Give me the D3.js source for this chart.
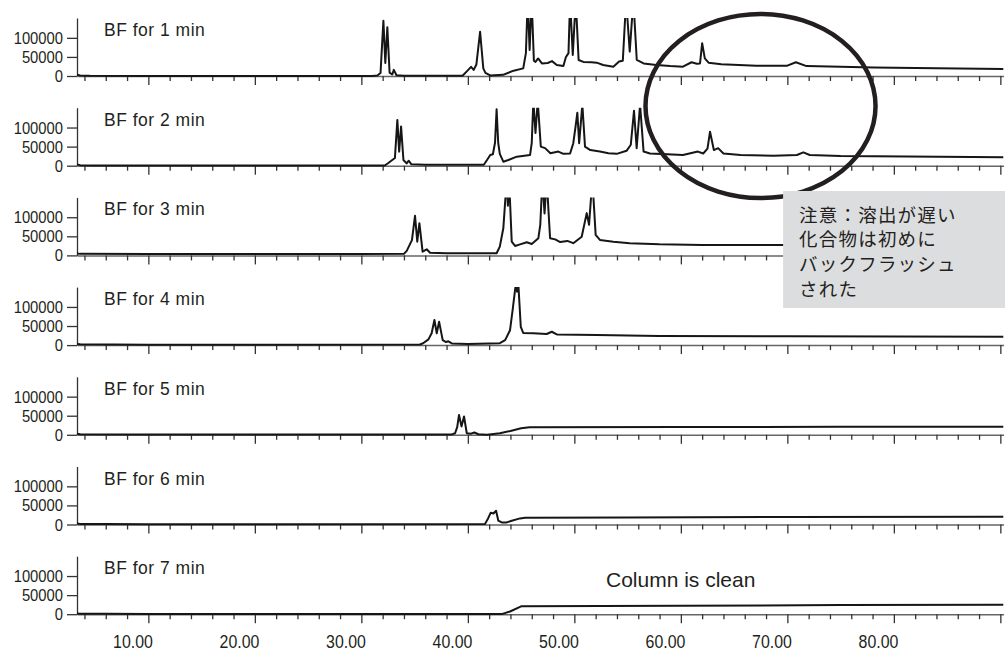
<!DOCTYPE html>
<html>
<head>
<meta charset="utf-8">
<script src="https://cdn.jsdelivr.net/npm/d3@7"></script>
<style>
  body { margin: 0; background: #fff; }
  svg { display: block; }
</style>
</head>
<body>
<svg id="chart" width="1005" height="651"></svg>
<script>
// panel titles (backflush time)
const titles = ["BF for 1 min", "BF for 2 min", "BF for 3 min", "BF for 4 min",
                "BF for 5 min", "BF for 6 min", "BF for 7 min"];

// traces, [retention time (min), abundance]
const bf1 = [[3.3,3000],[3.6,1500],[4.5,500],[10,300],[20,200],[31.0,300],[31.5,1500],[31.8,8000],
  [32.07,145000],[32.25,34000],[32.44,128000],[32.65,9000],[32.9,4000],[33.05,16000],[33.3,2000],[34,500],
  [39.5,500],[39.9,12000],[40.3,24000],[40.55,16000],[40.8,30000],[41.15,116000],[41.45,20000],[41.65,8000],
  [42.1,1500],[43.3,3000],[44.3,14000],[45.2,20000],[45.45,60000],[45.62,200000],[45.8,68000],[45.99,200000],
  [46.2,40000],[46.35,37000],[46.6,46000],[46.95,33000],[47.5,34000],[47.9,39000],[48.35,29000],[48.97,26000],
  [49.2,49000],[49.45,60000],[49.6,200000],[49.85,55000],[50.13,200000],[50.4,42000],[50.85,37000],[51.6,36000],
  [52.1,35000],[52.7,29000],[53.66,24500],[54.2,38000],[54.55,40000],[54.86,200000],[55.2,64000],[55.54,200000],
  [55.86,42000],[56.5,33000],[57.7,29000],[59.0,26000],[60.2,24500],[61.0,36000],[61.5,32000],[61.8,33000],
  [62.0,86000],[62.25,46000],[62.6,35000],[63.8,31000],[67.1,27000],[70.0,27000],[70.8,36000],[71.8,26000],
  [75.0,24500],[78.1,22000],[84,20000],[90.3,18400]];

const bf2 = [[3.3,3000],[3.6,1500],[5,800],[10,500],[20,300],[32.2,500],[32.5,6300],[33.15,20000],
  [33.38,120000],[33.55,37000],[33.73,103000],[33.95,15000],[34.25,6000],[34.45,13000],[34.7,3500],[36,2600],
  [41.5,2600],[41.8,15000],[42.1,28000],[42.35,30000],[42.55,60000],[42.7,148000],[42.85,60000],[43.0,31000],
  [43.33,10500],[43.8,15000],[44.6,23700],[45.84,28000],[46.0,60000],[46.15,170000],[46.35,86000],[46.56,170000],
  [46.85,50000],[47.25,46000],[47.75,32600],[48.5,37000],[48.97,31000],[49.6,32000],[49.9,59000],[50.1,100000],
  [50.28,139000],[50.45,59000],[50.75,160000],[51.0,50000],[51.5,41000],[52.4,37000],[53.2,32600],[53.98,31000],
  [54.9,39000],[55.3,55000],[55.6,144000],[55.85,46000],[56.17,160000],[56.5,37000],[57.1,32000],[58.7,30000],
  [60.2,28000],[61.6,37000],[62.1,32000],[62.5,45000],[62.74,89000],[63.1,41000],[63.5,46000],[64.0,32000],
  [65.6,28000],[68.7,26000],[70.9,28000],[71.5,35000],[72.1,28000],[75.0,25500],[81.2,24000],[90.3,22000]];

const bf3 = [[3.3,5000],[3.6,4000],[10,3500],[20,3500],[30,3500],[34.0,4000],[34.26,12000],[34.75,40000],
  [35.04,104000],[35.25,36000],[35.45,84500],[35.75,9700],[36.14,16000],[36.45,7000],[38,5500],[42.7,5500],
  [43.0,23000],[43.33,71000],[43.65,200000],[43.76,130000],[43.87,200000],[44.12,36000],[44.43,24700],[44.9,29000],
  [45.53,34500],[46.0,30000],[46.62,45000],[46.8,80000],[47.0,200000],[47.2,110000],[47.4,200000],[47.72,45000],
  [48.2,42000],[48.67,35000],[49.34,38000],[49.9,32000],[50.69,49000],[51.16,110800],[51.38,80000],[51.69,200000],
  [52.0,53700],[52.4,40500],[53.66,36000],[55.2,32000],[58.0,29000],[62,27400],[70,27000],[80,25000],[90.3,24000]];

const bf4 = [[3.3,3000],[3.6,2000],[10,1000],[20,800],[35.5,1500],[35.8,4700],[36.3,15000],[36.6,31000],
  [36.86,65800],[37.08,31000],[37.3,61400],[37.64,13000],[37.95,8000],[38.17,10000],[38.5,4500],[40,3000],
  [43.0,5000],[43.5,13000],[43.96,39000],[44.2,91000],[44.5,160000],[44.62,140000],[44.74,160000],[44.97,48000],
  [45.2,32000],[46.15,31000],[47.4,29000],[47.88,35000],[48.35,28000],[52.1,26500],[58.0,24000],[70,23000],
  [90.3,22000]];

const bf5 = [[3.3,2500],[3.6,1500],[10,800],[20,600],[38.5,1000],[38.8,4000],[39.0,20000],[39.17,52000],
  [39.4,22000],[39.64,48000],[39.9,4000],[40.3,3000],[40.6,6000],[41.0,1500],[41.8,0],[43.0,4000],[44.0,10000],
  [45.0,17000],[45.8,20000],[60,20500],[75,21000],[90.3,21000]];

const bf6 = [[3.3,2500],[3.6,1500],[6.0,1500],[10,800],[20,500],[41.6,1000],[41.9,16000],[42.15,31000],
  [42.4,29000],[42.65,36000],[42.86,10000],[43.18,5500],[43.65,5500],[44.12,10000],[44.9,16000],[45.37,17800],
  [55,18500],[70,19500],[90.3,20500]];

const bf7 = [[3.3,2000],[3.6,1000],[6,1000],[10,500],[20,300],[43.18,300],[43.96,7000],[44.9,19000],
  [45.06,21000],[60,22000],[75,24000],[90.3,25000]];

const traces = [bf1, bf2, bf3, bf4, bf5, bf6, bf7];

const yTicks = [0, 50000, 100000];
const xMinorTicks = d3.range(4, 91, 2);
const xLabelTicks = [10, 20, 30, 40, 50, 60, 70, 80];

const noteLines = ["注意：溶出が遅い", "化合物は初めに", "バックフラッシュ", "された"];
const cleanNote = "Column is clean";

// layout
const firstBase = 76, step = 89.7, panelH = 58;
const yMax = 152000;
const ink = "#231f20";
const sans = "'Liberation Sans', Arial, sans-serif";
const squeeze = "scale(0.86,1)";   // numbers in the original are a condensed face

const svg = d3.select("#chart");
const x = d3.scaleLinear().domain([3.3, 90.3]).range([77, 77 + 87 * 10.65]);

const line = d3.line()
    .x(d => x(d[0]))
    .y(d => d.yPos);

traces.forEach(function(data, i) {
    const base = firstBase + i * step;
    const y = d3.scaleLinear().domain([0, yMax]).range([base, base - panelH]);
    const g = svg.append("g");

    g.append("clipPath").attr("id", "clip" + i)
        .append("rect")
        .attr("x", x.range()[0]).attr("y", base - panelH)
        .attr("width", x.range()[1] - x.range()[0]).attr("height", panelH + 2);

    // x axis: minor every 2 min, longer every 10
    const xa = g.append("g")
        .attr("transform", "translate(0," + base + ")")
        .call(d3.axisBottom(x).tickValues(xMinorTicks).tickSize(5).tickSizeOuter(0).tickFormat(""));
    xa.selectAll(".tick line")
        .attr("y2", d => d % 10 === 0 ? 9 : 5)
        .attr("stroke", "#333").attr("stroke-width", 1.3);
    xa.select(".domain").attr("stroke", "#666").attr("stroke-width", 1.5);

    // y axis
    const ya = g.append("g")
        .attr("transform", "translate(" + x.range()[0] + ",0)")
        .call(d3.axisLeft(y).tickValues(yTicks).tickSize(10).tickSizeOuter(0).tickFormat(d3.format("d")));
    ya.select(".domain").attr("stroke", "#333").attr("stroke-width", 1.3);
    ya.selectAll(".tick line").attr("stroke", "#333").attr("stroke-width", 1.3);
    ya.selectAll(".tick text")
        .attr("x", 0)
        .attr("transform", "translate(-14,0) " + squeeze)
        .attr("fill", ink)
        .style("font-family", sans)
        .style("font-size", "17.2px");

    // trace
    g.append("path")
        .datum(data.map(d => Object.assign([d[0], d[1]], { yPos: y(d[1]) })))
        .attr("clip-path", "url(#clip" + i + ")")
        .attr("fill", "none")
        .attr("stroke", "#161616")
        .attr("stroke-width", 2)
        .attr("stroke-linejoin", "round")
        .attr("d", line);

    // title
    g.append("text")
        .attr("x", 104).attr("y", base - 40)
        .attr("fill", ink)
        .style("font-family", sans)
        .style("font-size", "17.5px")
        .style("letter-spacing", "0.5px")
        .text(titles[i]);

    // time labels on the last panel only
    if (i === traces.length - 1) {
        const lab = g.append("g")
            .attr("transform", "translate(0," + base + ")")
            .call(d3.axisBottom(x).tickValues(xLabelTicks).tickSize(0).tickFormat(d3.format(".2f")));
        lab.select(".domain").remove();
        lab.selectAll(".tick text")
            .attr("x", 0).attr("y", 0).attr("dy", null)
            .attr("transform", "translate(4,34) " + squeeze)
            .attr("text-anchor", "end")
            .attr("fill", ink)
            .style("font-family", sans)
            .style("font-size", "18.5px");

        g.append("text")
            .attr("x", x(52.97)).attr("y", base - 27)
            .attr("fill", ink)
            .style("font-family", sans)
            .style("font-size", "21px")
            .text(cleanNote);
    }
});

// circle round the late eluters in the first two runs
svg.append("ellipse")
    .attr("cx", x(67.48)).attr("cy", 106)
    .attr("rx", x(67.48 + 10.8) - x(67.48)).attr("ry", 92)
    .attr("fill", "none")
    .attr("stroke", ink)
    .attr("stroke-width", 4.5);

// note box
const boxX = x(69.6);
const box = svg.append("g");
box.append("rect")
    .attr("x", boxX).attr("y", 191)
    .attr("width", 1005 - boxX).attr("height", 117)
    .attr("fill", "#dcdddf");
box.selectAll("text").data(noteLines).enter().append("text")
    .attr("x", boxX + 16)
    .attr("y", (d, i) => 221.5 + i * 24.7)
    .attr("fill", ink)
    .style("font-family", "'Noto Sans CJK JP', sans-serif")
    .style("font-size", "18.5px")
    .style("letter-spacing", "1.2px")
    .text(d => d);
</script>
</body>
</html>
